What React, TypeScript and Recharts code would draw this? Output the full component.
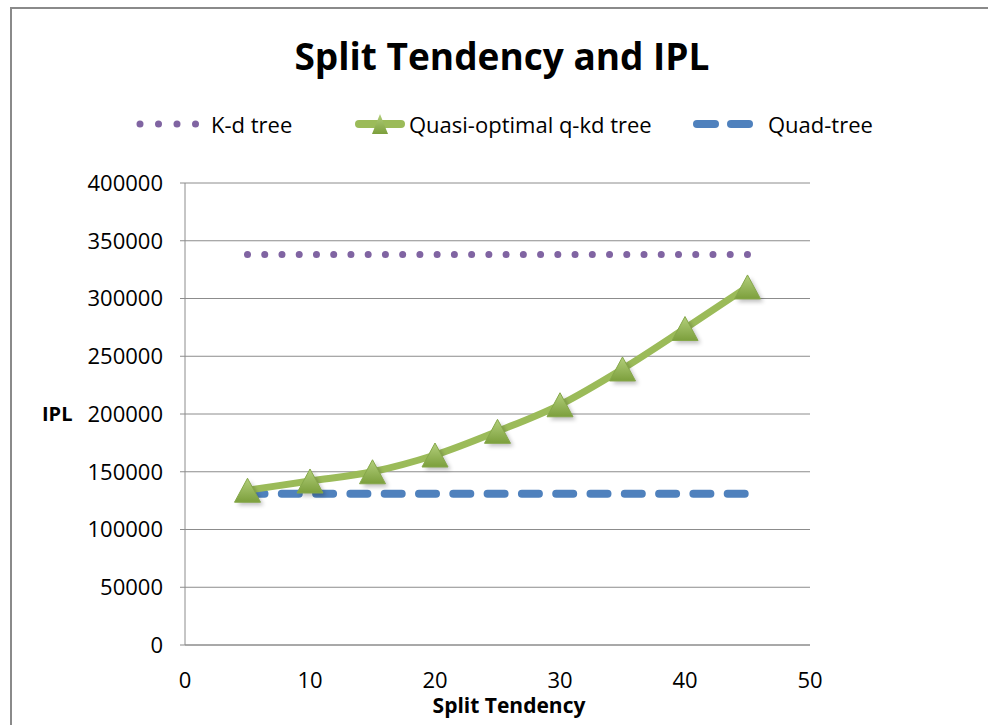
import React from "react";
import { LineChart, Line, XAxis, YAxis, CartesianGrid } from "recharts";

// split tendency values on the x axis
const splitTendency = [5, 10, 15, 20, 25, 30, 35, 40, 45];
const kdTree = [338000, 338000, 338000, 338000, 338000, 338000, 338000, 338000, 338000];
const quasiOptimal = [134000, 142000, 150000, 164500, 185000, 208000, 239000, 274000, 310000];
const quadTree = [131000, 131000, 131000, 131000, 131000, 131000, 131000, 131000, 131000];
const xTicks = [0, 10, 20, 30, 40, 50];
const yTicks = [0, 50000, 100000, 150000, 200000, 250000, 300000, 350000, 400000];
const seriesNames = ["K-d tree", "Quasi-optimal q-kd tree", "Quad-tree"];

const PURPLE = "#8064A2";
const GREEN = "#9BBB59";
const BLUE = "#4F81BD";
const GRID = "#8c8c8c";
const FONT = "'Open Sans', sans-serif";

const data = splitTendency.map((x, i) => ({
  x,
  kd: kdTree[i],
  quasi: quasiOptimal[i],
  quad: quadTree[i],
}));

const Triangle = ({ cx, cy, w = 26, h = 24 }: any) => (
  <g>
    <polygon
      points={`${cx - w / 2 + 3},${cy + h / 2 + 3} ${cx + 3},${cy - h / 2 + 3} ${cx + w / 2 + 3},${cy + h / 2 + 3}`}
      fill="#000"
      opacity={0.25}
      filter="url(#triShadow)"
    />
    <polygon
      points={`${cx - w / 2},${cy + h / 2} ${cx},${cy - h / 2} ${cx + w / 2},${cy + h / 2}`}
      fill="url(#triFill)"
      stroke="#86a84a"
      strokeWidth={1}
    />
  </g>
);

const TriangleDot = (props: any) => {
  const { cx, cy, index } = props;
  if (cx == null || cy == null) return null;
  return <Triangle key={index} cx={cx} cy={cy} />;
};

const LegendRow = () => (
  <svg width={988} height={34} style={{ position: "absolute", left: 0, top: 107 }}>
    <defs>
      <linearGradient id="legFill" x1="0" y1="0" x2="0" y2="1">
        <stop offset="0%" stopColor="#b3cf7c" />
        <stop offset="100%" stopColor="#7c9f3c" />
      </linearGradient>
    </defs>
    {[0, 1, 2, 3].map((i) => (
      <circle key={i} cx={140 + i * 18.5} cy={17} r={3.5} fill={PURPLE} />
    ))}
    <text x={211} y={17} dominantBaseline="central" fontFamily={FONT} fontSize={22} fill="#000">
      {seriesNames[0]}
    </text>
    <line x1={359} x2={401} y1={17} y2={17} stroke={GREEN} strokeWidth={8} strokeLinecap="round" />
    <polygon points="372,27 380,7 388,27" fill="url(#legFill)" />
    <text x={409} y={17} dominantBaseline="central" fontFamily={FONT} fontSize={22} fill="#000">
      {seriesNames[1]}
    </text>
    <line x1={697} x2={715} y1={17} y2={17} stroke={BLUE} strokeWidth={8} strokeLinecap="round" />
    <line x1={731} x2={749} y1={17} y2={17} stroke={BLUE} strokeWidth={8} strokeLinecap="round" />
    <text x={768} y={17} dominantBaseline="central" fontFamily={FONT} fontSize={22} fill="#000">
      {seriesNames[2]}
    </text>
  </svg>
);

export default function App() {
  return (
    <div
      style={{
        position: "absolute",
        left: 0,
        top: 0,
        width: 988,
        height: 725,
        background: "#fff",
        overflow: "hidden",
        fontFamily: FONT,
      }}
    >
      <div
        style={{
          position: "absolute",
          left: 10,
          top: 7,
          width: 1000,
          height: 740,
          border: "2px solid #8a8a8a",
          boxSizing: "border-box",
        }}
      />
      <div
        style={{
          position: "absolute",
          left: 0,
          width: 1004,
          top: 31,
          textAlign: "center",
          fontSize: 37,
          fontWeight: 700,
          lineHeight: "50px",
          color: "#000",
        }}
      >
        Split Tendency and IPL
      </div>
      <LegendRow />
      <div
        style={{
          position: "absolute",
          left: 42,
          top: 401,
          fontSize: 20,
          fontWeight: 700,
          lineHeight: "26px",
        }}
      >
        IPL
      </div>
      <div
        style={{
          position: "absolute",
          left: 0,
          width: 1018,
          top: 691,
          textAlign: "center",
          fontSize: 21,
          fontWeight: 700,
          lineHeight: "28px",
        }}
      >
        Split Tendency
      </div>
      <div style={{ position: "absolute", left: 0, top: 0 }}>
        <LineChart
          width={988}
          height={725}
          data={data}
          margin={{ top: 183, right: 178, bottom: 0, left: 0 }}
        >
          <defs>
            <linearGradient id="triFill" x1="0" y1="0" x2="0" y2="1">
              <stop offset="0%" stopColor="#b3cf7c" />
              <stop offset="100%" stopColor="#7c9f3c" />
            </linearGradient>
            <filter id="triShadow" x="-50%" y="-50%" width="200%" height="200%">
              <feGaussianBlur stdDeviation="2" />
            </filter>
          </defs>
          <CartesianGrid vertical={false} stroke={GRID} strokeWidth={1} />
          <XAxis
            type="number"
            dataKey="x"
            domain={[0, 50]}
            ticks={xTicks}
            height={80}
            tickSize={0}
            tickMargin={27}
            axisLine={{ stroke: GRID }}
            tick={{ fill: "#000", fontSize: 22, fontFamily: FONT }}
          />
          <YAxis
            type="number"
            domain={[0, 400000]}
            ticks={yTicks}
            width={185}
            tickSize={5}
            tickMargin={17}
            axisLine={{ stroke: GRID }}
            tickLine={{ stroke: GRID }}
            tick={{ fill: "#000", fontSize: 22, fontFamily: FONT }}
          />
          <Line
            dataKey="kd"
            name={seriesNames[0]}
            stroke={PURPLE}
            strokeWidth={7}
            strokeLinecap="round"
            strokeDasharray="0 17.24"
            dot={false}
            activeDot={false}
            isAnimationActive={false}
          />
          <Line
            dataKey="quad"
            name={seriesNames[2]}
            stroke={BLUE}
            strokeWidth={8}
            strokeLinecap="round"
            strokeDasharray="17 17.3"
            dot={false}
            activeDot={false}
            isAnimationActive={false}
          />
          <Line
            dataKey="quasi"
            name={seriesNames[1]}
            type="monotone"
            stroke={GREEN}
            strokeWidth={7}
            dot={<TriangleDot />}
            activeDot={false}
            isAnimationActive={false}
          />
        </LineChart>
      </div>
    </div>
  );
}
